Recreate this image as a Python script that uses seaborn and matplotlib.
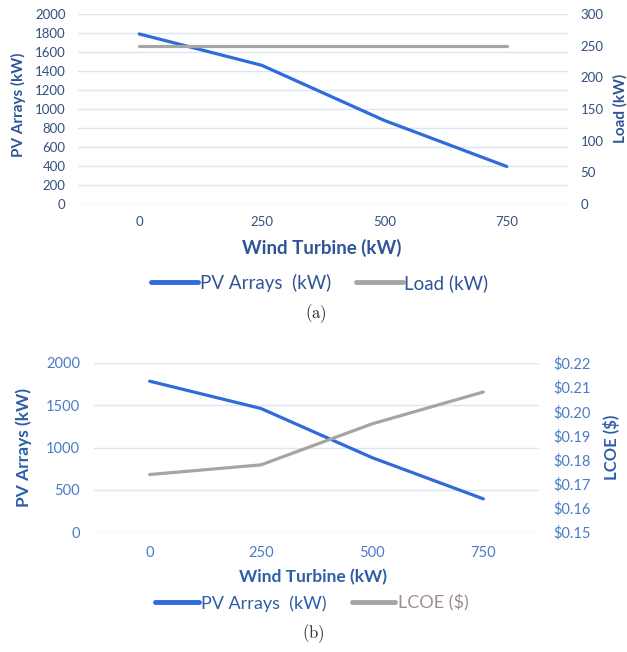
import matplotlib
matplotlib.use("Agg")
import matplotlib.pyplot as plt
import seaborn as sns
import pandas as pd

# ---- data ----
wind_turbine = ["0", "250", "500", "750"]
pv_arrays_a = [1790, 1460, 880, 395]
load_kw = [250, 250, 250, 250]
pv_arrays_b = [1785, 1462, 880, 392]
lcoe = [0.1738, 0.1778, 0.1948, 0.2080]

left_ticks_a = [0, 200, 400, 600, 800, 1000, 1200, 1400, 1600, 1800, 2000]
right_ticks_a = [0, 50, 100, 150, 200, 250, 300]
left_ticks_b = [0, 500, 1000, 1500, 2000]
right_ticks_b = [0.15, 0.16, 0.17, 0.18, 0.19, 0.20, 0.21, 0.22]

sns.set_theme(style="white")
plt.rcParams['font.family'] = ['Lato', 'DejaVu Sans']
plt.rcParams['mathtext.fontset'] = 'cm'

BLUE = "#2F6BDB"
GRAY = "#A5A5A5"
GRID = "#DCE5F4"

df_a = pd.DataFrame({"wt": wind_turbine, "pv": pv_arrays_a, "load": load_kw})
df_b = pd.DataFrame({"wt": wind_turbine, "pv": pv_arrays_b, "lcoe": lcoe})

fig = plt.figure(figsize=(6.27, 6.52), dpi=100)
W, H = 627, 652

def add_ax(x0, x1, y0, y1):
    return fig.add_axes([x0 / W, 1 - y1 / H, (x1 - x0) / W, (y1 - y0) / H])

def style(ax, ax2, tick_col, fs, pad):
    for a in (ax, ax2):
        for s in a.spines.values():
            s.set_visible(False)
        a.tick_params(length=0, colors=tick_col, labelsize=fs, pad=pad)
    ax.yaxis.grid(True, color=GRID, linewidth=1)
    ax.set_axisbelow(True)
    ax2.grid(False)
    ax.set_xlim(-0.5, 3.5)

# ---------- (a) ----------
ax = add_ax(78, 568, 14, 204)
ax2 = ax.twinx()
sns.lineplot(data=df_a, x="wt", y="pv", ax=ax, color=BLUE, linewidth=2.3,
             sort=False, label="PV Arrays  (kW)", legend=False)
sns.lineplot(data=df_a, x="wt", y="load", ax=ax2, color=GRAY, linewidth=2.3,
             sort=False, label="Load (kW)", legend=False)
ax.set_ylim(0, 2000)
ax.set_yticks(left_ticks_a)
ax2.set_ylim(0, 300)
ax2.set_yticks(right_ticks_a)
style(ax, ax2, "#34507F", 9.5, 9)
lab_col = "#2F5597"
ax.set_xlabel("Wind Turbine (kW)", fontsize=13.5, fontweight="bold", color=lab_col)
ax.xaxis.set_label_coords((322 - 78) / 490, (204 - 248) / 190)
ax.xaxis.label.set_va("center")
ax.set_ylabel("PV Arrays (kW)", fontsize=11, fontweight="bold", color=lab_col)
ax.yaxis.set_label_coords((18 - 78) / 490, (204 - 105) / 190)
ax.yaxis.label.set_va("center")
ax2.set_ylabel("Load (kW)", fontsize=11, fontweight="bold", color=lab_col, rotation=90)
ax2.yaxis.set_label_coords((620 - 78) / 490, (204 - 108) / 190)
ax2.yaxis.label.set_va("center")

h1 = ax.get_lines() + ax2.get_lines()
leg = fig.legend(h1, [l.get_label() for l in h1], loc="center",
                 bbox_to_anchor=(320 / W, 1 - 283 / H), ncol=2, frameon=False,
                 fontsize=13.5, handlelength=2.5, handletextpad=0.1, columnspacing=1.3,
                 labelcolor=[lab_col, lab_col])
for lh in leg.get_lines():
    lh.set_linewidth(3.5)
fig.text(316 / W, 1 - 314 / H, r"$\mathrm{(a)}$", ha="center", va="center", fontsize=12)

# ---------- (b) ----------
bx = add_ax(94, 539, 363, 532)
bx2 = bx.twinx()
sns.lineplot(data=df_b, x="wt", y="pv", ax=bx, color=BLUE, linewidth=2.3,
             sort=False, label="PV Arrays  (kW)", legend=False)
sns.lineplot(data=df_b, x="wt", y="lcoe", ax=bx2, color=GRAY, linewidth=2.3,
             sort=False, label="LCOE ($)", legend=False)
bx.set_ylim(0, 2000)
bx.set_yticks(left_ticks_b)
bx2.set_ylim(0.15, 0.22)
bx2.set_yticks(right_ticks_b)
bx2.set_yticklabels([f"${v:.2f}" for v in right_ticks_b])
style(bx, bx2, "#4A7CC7", 10.5, 10)
lab_col_b = "#2E5EAA"
bx.set_xlabel("Wind Turbine (kW)", fontsize=12.5, fontweight="bold", color=lab_col_b)
bx.xaxis.set_label_coords((313 - 94) / 445, (532 - 577) / 169)
bx.xaxis.label.set_va("center")
bx.set_ylabel("PV Arrays (kW)", fontsize=12.5, fontweight="bold", color=lab_col_b)
bx.yaxis.set_label_coords((24 - 94) / 445, (532 - 448) / 169)
bx.yaxis.label.set_va("center")
bx2.set_ylabel("LCOE ($)", fontsize=12, fontweight="bold", color=lab_col_b, rotation=90)
bx2.yaxis.set_label_coords((612 - 94) / 445, (532 - 447) / 169)
bx2.yaxis.label.set_va("center")

h2 = bx.get_lines() + bx2.get_lines()
leg2 = fig.legend(h2, [l.get_label() for l in h2], loc="center",
                  bbox_to_anchor=(312 / W, 1 - 603 / H), ncol=2, frameon=False,
                  fontsize=13, handlelength=2.4, handletextpad=0.15, columnspacing=1.4,
                  labelcolor=[lab_col_b, "#A08C8C"])
for lh in leg2.get_lines():
    lh.set_linewidth(3.5)
fig.text(313 / W, 1 - 634 / H, r"$\mathrm{(b)}$", ha="center", va="center", fontsize=12)

fig.savefig("out.png", dpi=100)
